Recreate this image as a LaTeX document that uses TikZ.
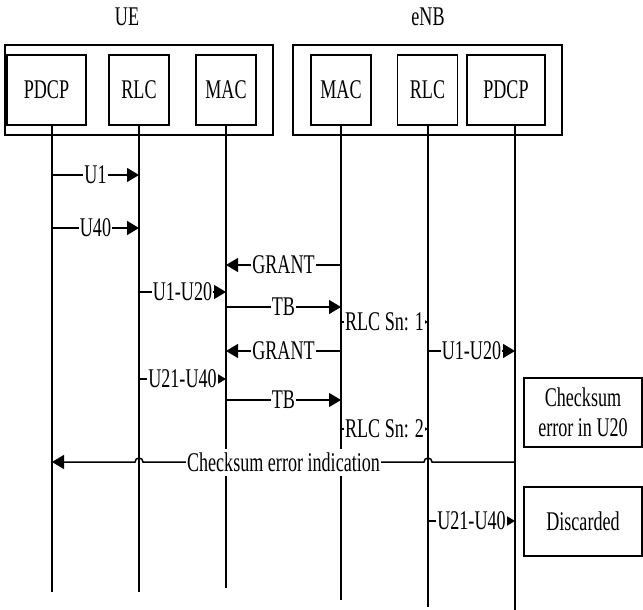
\documentclass[tikz,border=0pt]{standalone}
\usepackage{fontspec}
\setmainfont{Liberation Serif}[FakeStretch=0.67]
\usetikzlibrary{arrows.meta}

\begin{document}
\begin{tikzpicture}[x=1pt, y=-1pt,
    font=\fontsize{27}{30}\selectfont,
    grp/.style={draw, line width=1.2pt, minimum height=90pt},
    blk/.style={draw, line width=1.2pt, minimum height=70pt, inner sep=0pt},
    life/.style={line width=1.5pt},
    msg/.style={line width=1.5pt, -{Triangle[length=12pt, width=14pt]}},
    lbl/.style={fill=white, inner xsep=1pt, inner ysep=4pt},
    note/.style={draw, line width=1.2pt, align=center, minimum width=118pt, minimum height=69pt}
]
\useasboundingbox (0,0) rectangle (643,610);

% entities
\node (ue) at (127,17) {UE};
\node (enb) at (428,17) {eNB};
\node[grp, minimum width=268pt] (ueBox) at (139,90) {};
\node[grp, minimum width=269pt] (enbBox) at (427.5,90) {};

\node[blk, minimum width=79pt] (uePdcp) at (46.5,90) {PDCP};
\node[blk, minimum width=60pt] (ueRlc) at (139,90) {RLC};
\node[blk, minimum width=60pt] (ueMac) at (226,90) {MAC};
\node[blk, minimum width=60pt] (enbMac) at (341,90) {MAC};
\node[blk, minimum width=60pt] (enbRlc) at (427.5,90) {RLC};
\node[blk, minimum width=78pt] (enbPdcp) at (506,90) {PDCP};

% lifelines
\coordinate (uePdcpL) at (52,125);
\coordinate (ueRlcL) at (139,125);
\coordinate (ueMacL) at (226,125);
\coordinate (enbMacL) at (341,125);
\coordinate (enbRlcL) at (428,125);
\coordinate (enbPdcpL) at (515,125);

\draw[life] (uePdcpL) -- (uePdcpL |- 0,592);
\draw[life] (ueRlcL) -- (ueRlcL |- 0,592);
\draw[life] (ueMacL) -- (ueMacL |- 0,588);
\draw[life] (enbMacL) -- (enbMacL |- 0,600);
\draw[life] (enbRlcL) -- (enbRlcL |- 0,607);
\draw[life] (enbPdcpL) -- (enbPdcpL |- 0,610);

% messages
\draw[msg] (uePdcpL |- 0,175) -- node[lbl] {U1} (ueRlcL |- 0,175);
\draw[msg] (uePdcpL |- 0,228) -- node[lbl] {U40} (ueRlcL |- 0,228);
\draw[msg] (enbMacL |- 0,265) -- node[lbl] {GRANT} (ueMacL |- 0,265);
\draw[msg] (ueRlcL |- 0,292) -- node[lbl] {U1-U20} (ueMacL |- 0,292);
\draw[msg] (ueMacL |- 0,307) -- node[lbl] {TB} (enbMacL |- 0,307);
\draw[msg] (enbMacL |- 0,322) -- node[lbl] {RLC Sn: 1} (enbRlcL |- 0,322);
\draw[msg] (enbMacL |- 0,351) -- node[lbl] {GRANT} (ueMacL |- 0,351);
\draw[msg] (enbRlcL |- 0,351) -- node[lbl] {U1-U20} (enbPdcpL |- 0,351);
\draw[msg] (ueRlcL |- 0,379) -- node[lbl] {U21-U40} (ueMacL |- 0,379);
\draw[msg] (ueMacL |- 0,400) -- node[lbl] {TB} (enbMacL |- 0,400);
\draw[msg] (enbMacL |- 0,429) -- node[lbl] {RLC Sn: 2} (enbRlcL |- 0,429);
\draw[msg] (enbPdcpL |- 0,462) -- ([xshift=4pt]enbRlcL |- 0,462)
    arc[start angle=0, end angle=180, radius=4pt]
    -- node[lbl] {Checksum error indication} ([xshift=4pt]ueRlcL |- 0,462)
    arc[start angle=0, end angle=180, radius=4pt]
    -- (uePdcpL |- 0,462);
\draw[msg] (enbRlcL |- 0,521) -- node[lbl] {U21-U40} (enbPdcpL |- 0,521);

% notes
\node[note] (errNote) at (583,412.5) {Checksum\\error in U20};
\node[note] (discNote) at (583,521.5) {Discarded};
\end{tikzpicture}
\end{document}
